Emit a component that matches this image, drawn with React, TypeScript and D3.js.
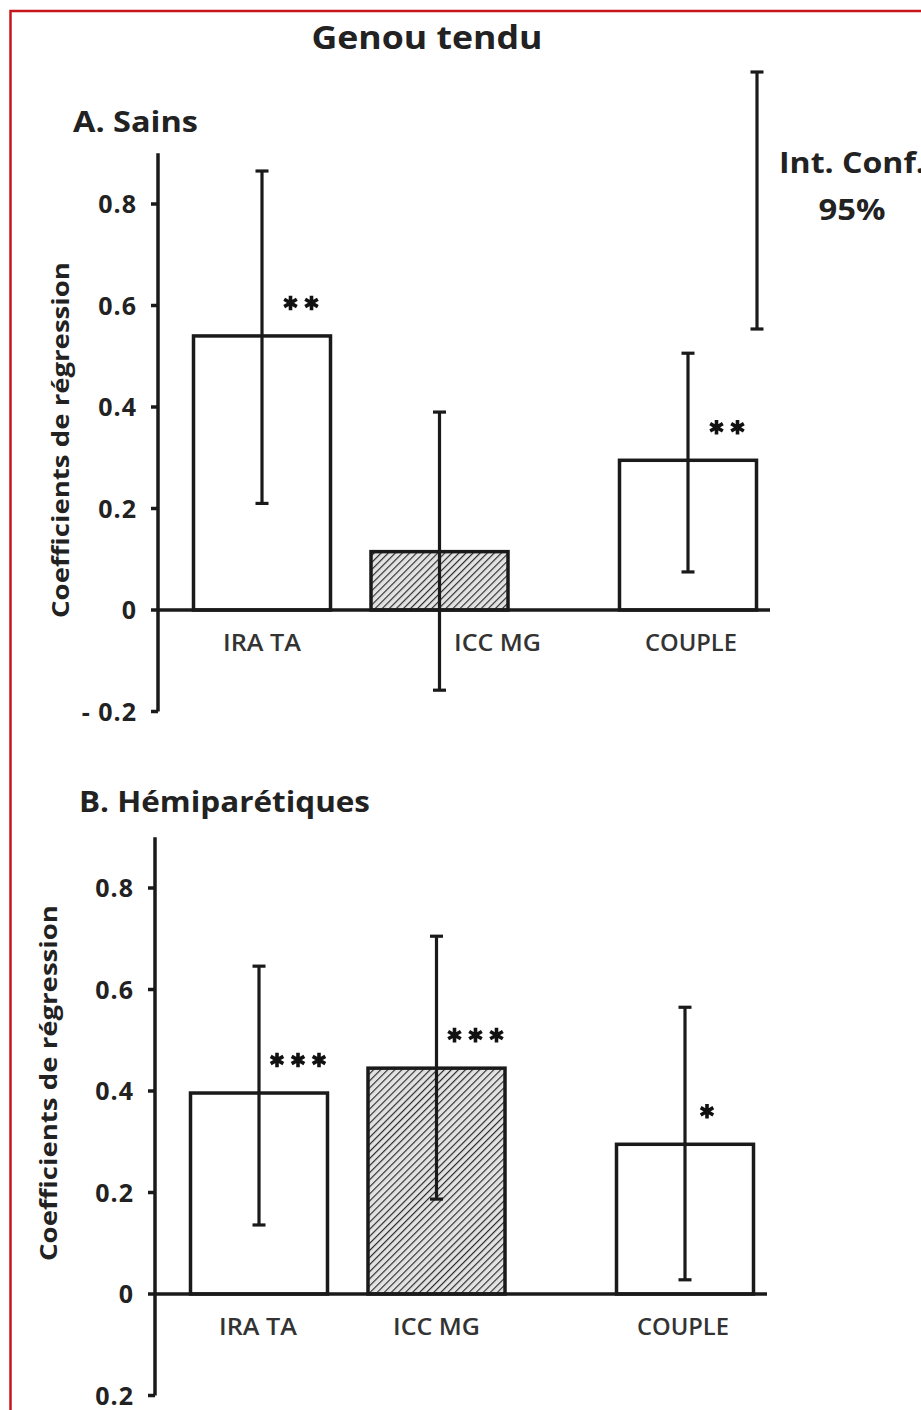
import React from "react";
import * as d3 from "d3";

// ---------- data ----------
const categories = ["IRA TA", "ICC MG", "COUPLE"];
const categorySlots = [0, 1, 2.4];
const hatched = [false, true, false];
const tickValues = [-0.2, 0, 0.2, 0.4, 0.6, 0.8];

const sainsValues = [0.54, 0.115, 0.295];
const sainsLower = [0.21, -0.158, 0.075];
const sainsUpper = [0.865, 0.39, 0.506];
const sainsStars = ["**", "", "**"];
const sainsTickLabels = ["- 0.2", "0", "0.2", "0.4", "0.6", "0.8"];

const hemiValues = [0.396, 0.445, 0.295];
const hemiLower = [0.136, 0.187, 0.028];
const hemiUpper = [0.646, 0.705, 0.565];
const hemiStars = ["***", "***", "*"];
const hemiTickLabels = ["0.2", "0", "0.2", "0.4", "0.6", "0.8"];

const FONT = "'Open Sans', 'Noto Sans', sans-serif";
const INK = "#1a1a1a";
const labelWidths = [78, 87, 92];

type PanelProps = {
  title: string;
  titleX: number;
  titleY: number;
  titleW: number;
  axisX: number;
  zeroY: number;
  values: number[];
  lower: number[];
  upper: number[];
  stars: string[];
  tickLabels: string[];
  labelShift: number[];
  labelY: number;
  yLabelX: number;
  yLabelY: number;
};

function Panel(p: PanelProps) {
  const unit = 507.5;
  const y = d3
    .scaleLinear()
    .domain([-0.2, 0.9])
    .range([p.zeroY + 0.2 * unit, p.zeroY - 0.9 * unit]);
  const x = d3
    .scaleLinear()
    .domain([0, 1])
    .range([p.axisX + 104, p.axisX + 104 + 177.5]);
  const barW = 137;
  const star = d3.symbol().type(d3.symbolAsterisk).size(150)() as string;

  return (
    <g>
      <text
        x={p.titleX}
        y={p.titleY}
        fontFamily={FONT}
        fontWeight={700}
        fontSize={29}
        fill="#222"
        textLength={p.titleW}
        lengthAdjust="spacingAndGlyphs"
      >
        {p.title}
      </text>
      <text
        transform={`translate(${p.yLabelX},${p.yLabelY}) rotate(-90)`}
        textAnchor="middle"
        fontFamily={FONT}
        fontWeight={700}
        fontSize={23}
        fill="#222"
        textLength={356}
        lengthAdjust="spacingAndGlyphs"
      >
        Coefficients de régression
      </text>
      {/* y axis */}
      <line
        x1={p.axisX}
        x2={p.axisX}
        y1={y(0.9)}
        y2={y(-0.2)}
        stroke={INK}
        strokeWidth={3.5}
      />
      {tickValues.map((t, i) => (
        <g key={i}>
          <line
            x1={p.axisX - 7}
            x2={p.axisX}
            y1={y(t)}
            y2={y(t)}
            stroke={INK}
            strokeWidth={3.5}
          />
          <text
            x={p.axisX - 21}
            y={y(t)}
            dy="0.36em"
            textAnchor="end"
            fontFamily={FONT}
            fontWeight={700}
            fontSize={25}
            letterSpacing={1}
            fill="#222"
          >
            {p.tickLabels[i]}
          </text>
        </g>
      ))}
      {/* bars */}
      {categories.map((c, i) => {
        const cx = x(categorySlots[i]);
        const top = y(p.values[i]);
        return (
          <rect
            key={c}
            x={cx - barW / 2}
            y={top}
            width={barW}
            height={y(0) - top}
            fill={hatched[i] ? "url(#hatch)" : "#fff"}
            stroke={INK}
            strokeWidth={3.5}
          />
        );
      })}
      {/* x axis */}
      <line
        x1={p.axisX}
        x2={p.axisX + 612}
        y1={y(0)}
        y2={y(0)}
        stroke={INK}
        strokeWidth={3.5}
      />
      {/* error bars */}
      {categories.map((c, i) => {
        const cx = x(categorySlots[i]);
        return (
          <g key={c} stroke={INK} strokeWidth={3.2}>
            <line x1={cx} x2={cx} y1={y(p.lower[i])} y2={y(p.upper[i])} />
            <line
              x1={cx - 6.5}
              x2={cx + 6.5}
              y1={y(p.lower[i])}
              y2={y(p.lower[i])}
            />
            <line
              x1={cx - 6.5}
              x2={cx + 6.5}
              y1={y(p.upper[i])}
              y2={y(p.upper[i])}
            />
          </g>
        );
      })}
      {/* significance stars */}
      {categories.map((c, i) => {
        const cx = x(categorySlots[i]);
        const n = p.stars[i].length;
        const sy = y(p.values[i]) - 33;
        const groupCenter = cx + (n > 1 ? 39 : 22);
        return (
          <g key={c}>
            {d3.range(n).map((k) => (
              <path
                key={k}
                d={star}
                transform={`translate(${
                  groupCenter + (k - (n - 1) / 2) * 21
                },${sy})`}
                stroke="#111"
                strokeWidth={3.6}
                fill="none"
              />
            ))}
          </g>
        );
      })}
      {/* category labels */}
      {categories.map((c, i) => (
        <text
          key={c}
          x={x(categorySlots[i]) + p.labelShift[i]}
          y={p.labelY}
          textAnchor="middle"
          fontFamily={FONT}
          fontWeight={600}
          fontSize={23}
          fill="#333"
          textLength={labelWidths[i]}
          lengthAdjust="spacingAndGlyphs"
        >
          {c}
        </text>
      ))}
    </g>
  );
}

export default function App() {
  return (
    <div style={{ position: "absolute", left: 0, top: 0 }}>
      <svg width={921} height={1410} style={{ display: "block" }}>
        <defs>
          <pattern
            id="hatch"
            patternUnits="userSpaceOnUse"
            width={5}
            height={5}
            patternTransform="rotate(45)"
          >
            <rect width={5} height={5} fill="#e3e3e3" />
            <line x1={0} y1={0} x2={0} y2={5} stroke="#2a2a2a" strokeWidth={2.3} />
          </pattern>
        </defs>
        <rect x={0} y={0} width={921} height={1410} fill="#fff" />
        <rect
          x={10.5}
          y={11}
          width={1000}
          height={1500}
          fill="none"
          stroke="#c8141c"
          strokeWidth={2.5}
        />
        <text
          x={427}
          y={49}
          textAnchor="middle"
          fontFamily={FONT}
          fontWeight={700}
          fontSize={33}
          fill="#222"
          textLength={231}
          lengthAdjust="spacingAndGlyphs"
        >
          Genou tendu
        </text>
        <Panel
          title="A. Sains"
          titleX={73}
          titleY={132}
          titleW={125}
          axisX={158}
          zeroY={610}
          values={sainsValues}
          lower={sainsLower}
          upper={sainsUpper}
          stars={sainsStars}
          tickLabels={sainsTickLabels}
          labelShift={[0, 58, 3]}
          labelY={651}
          yLabelX={69}
          yLabelY={440}
        />
        <Panel
          title="B. Hémiparétiques"
          titleX={79}
          titleY={812}
          titleW={291}
          axisX={155}
          zeroY={1294}
          values={hemiValues}
          lower={hemiLower}
          upper={hemiUpper}
          stars={hemiStars}
          tickLabels={hemiTickLabels}
          labelShift={[-1, 0, -2]}
          labelY={1335}
          yLabelX={57}
          yLabelY={1083}
        />
        {/* CI legend */}
        <g stroke={INK} strokeWidth={3.2}>
          <line x1={757} x2={757} y1={72} y2={329} />
          <line x1={750.5} x2={763.5} y1={72} y2={72} />
          <line x1={750.5} x2={763.5} y1={329} y2={329} />
        </g>
        <text
          x={779}
          y={173}
          fontFamily={FONT}
          fontWeight={700}
          fontSize={28}
          fill="#222"
          textLength={146}
          lengthAdjust="spacingAndGlyphs"
        >
          Int. Conf.
        </text>
        <text
          x={852}
          y={220}
          textAnchor="middle"
          fontFamily={FONT}
          fontWeight={700}
          fontSize={28}
          fill="#222"
          textLength={67}
          lengthAdjust="spacingAndGlyphs"
        >
          95%
        </text>
      </svg>
    </div>
  );
}
